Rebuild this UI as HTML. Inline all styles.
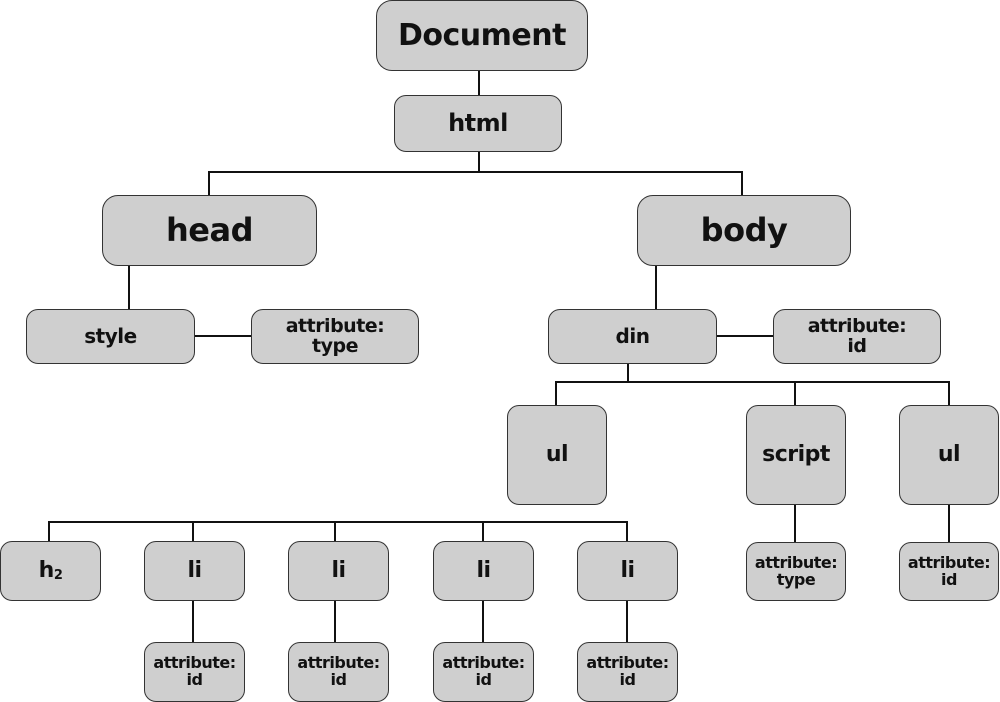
<!DOCTYPE html>
<html><head><style>
body{margin:0;width:1000px;height:702px;background:#fff;position:relative;overflow:hidden;font-family:"DejaVu Sans","Liberation Sans",sans-serif;font-weight:bold;}
.b{position:absolute;background:#cfcfcf;border:1.5px solid #333;box-sizing:border-box;border-radius:12px;display:flex;align-items:center;justify-content:center;text-align:center;color:#111;line-height:1.05;letter-spacing:-0.5px}
.l{position:absolute;background:#111}
</style></head><body>
<!-- lines -->
<div class="l" style="left:478px;top:70px;width:2px;height:26px"></div>
<div class="l" style="left:478px;top:151px;width:2px;height:22px"></div>
<div class="l" style="left:208px;top:171px;width:535px;height:2px"></div>
<div class="l" style="left:208px;top:171px;width:2px;height:25px"></div>
<div class="l" style="left:741px;top:171px;width:2px;height:25px"></div>
<div class="l" style="left:128px;top:265px;width:2px;height:45px"></div>
<div class="l" style="left:194px;top:335px;width:58px;height:2px"></div>
<div class="l" style="left:655px;top:265px;width:2px;height:45px"></div>
<div class="l" style="left:716px;top:335px;width:58px;height:2px"></div>
<div class="l" style="left:627px;top:363px;width:2px;height:19px"></div>
<div class="l" style="left:555px;top:381px;width:395px;height:2px"></div>
<div class="l" style="left:555px;top:381px;width:2px;height:25px"></div>
<div class="l" style="left:794px;top:381px;width:2px;height:25px"></div>
<div class="l" style="left:948px;top:381px;width:2px;height:25px"></div>
<div class="l" style="left:794px;top:504px;width:2px;height:39px"></div>
<div class="l" style="left:948px;top:504px;width:2px;height:39px"></div>
<div class="l" style="left:48px;top:521px;width:580px;height:2px"></div>
<div class="l" style="left:48px;top:521px;width:2px;height:21px"></div>
<div class="l" style="left:192px;top:521px;width:2px;height:21px"></div>
<div class="l" style="left:334px;top:521px;width:2px;height:21px"></div>
<div class="l" style="left:482px;top:521px;width:2px;height:21px"></div>
<div class="l" style="left:626px;top:521px;width:2px;height:21px"></div>
<div class="l" style="left:192px;top:600px;width:2px;height:43px"></div>
<div class="l" style="left:334px;top:600px;width:2px;height:43px"></div>
<div class="l" style="left:482px;top:600px;width:2px;height:43px"></div>
<div class="l" style="left:626px;top:600px;width:2px;height:43px"></div>
<!-- boxes -->
<div class="b" style="left:376px;top:0;width:212px;height:71px;font-size:30px;border-radius:16px">Document</div>
<div class="b" style="left:394px;top:95px;width:168px;height:57px;font-size:24px">html</div>
<div class="b" style="left:102px;top:195px;width:215px;height:71px;font-size:32px;border-radius:16px">head</div>
<div class="b" style="left:637px;top:195px;width:214px;height:71px;font-size:32px;border-radius:16px">body</div>
<div class="b" style="left:26px;top:309px;width:169px;height:55px;font-size:20px">style</div>
<div class="b" style="left:251px;top:309px;width:168px;height:55px;font-size:19px">attribute:<br>type</div>
<div class="b" style="left:548px;top:309px;width:169px;height:55px;font-size:20px">din</div>
<div class="b" style="left:773px;top:309px;width:168px;height:55px;font-size:19px">attribute:<br>id</div>
<div class="b" style="left:507px;top:405px;width:100px;height:100px;font-size:22px">ul</div>
<div class="b" style="left:746px;top:405px;width:100px;height:100px;font-size:22px">script</div>
<div class="b" style="left:899px;top:405px;width:100px;height:100px;font-size:22px">ul</div>
<div class="b" style="left:0;top:541px;width:101px;height:60px;font-size:22px">h<span style="font-size:13px;position:relative;top:5px">2</span></div>
<div class="b" style="left:144px;top:541px;width:101px;height:60px;font-size:22px">li</div>
<div class="b" style="left:288px;top:541px;width:101px;height:60px;font-size:22px">li</div>
<div class="b" style="left:433px;top:541px;width:101px;height:60px;font-size:22px">li</div>
<div class="b" style="left:577px;top:541px;width:101px;height:60px;font-size:22px">li</div>
<div class="b" style="left:746px;top:542px;width:100px;height:59px;font-size:16px">attribute:<br>type</div>
<div class="b" style="left:899px;top:542px;width:100px;height:59px;font-size:16px">attribute:<br>id</div>
<div class="b" style="left:144px;top:642px;width:101px;height:60px;font-size:16px">attribute:<br>id</div>
<div class="b" style="left:288px;top:642px;width:101px;height:60px;font-size:16px">attribute:<br>id</div>
<div class="b" style="left:433px;top:642px;width:101px;height:60px;font-size:16px">attribute:<br>id</div>
<div class="b" style="left:577px;top:642px;width:101px;height:60px;font-size:16px">attribute:<br>id</div>
</body></html>
